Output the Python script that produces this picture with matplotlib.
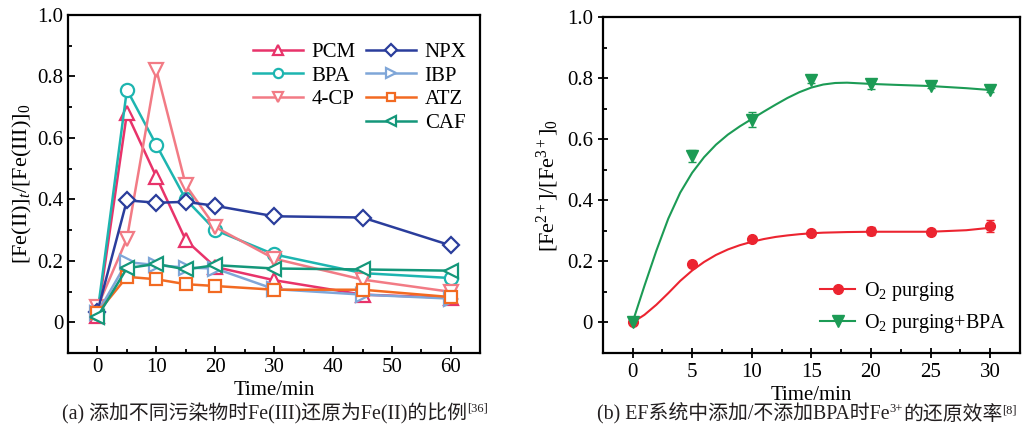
import matplotlib
matplotlib.use("Agg")
import matplotlib.pyplot as plt
from matplotlib.ticker import MultipleLocator, FixedLocator, FixedFormatter
from matplotlib.lines import Line2D

plt.rcParams['font.family'] = ['Liberation Serif', 'Noto Sans CJK SC']
plt.rcParams['mathtext.fontset'] = 'custom'
plt.rcParams['mathtext.rm'] = 'Liberation Serif'
plt.rcParams['mathtext.it'] = 'Liberation Serif:italic'

# ---------------- data: panel (a) ----------------
time_a = [0, 5, 10, 15, 20, 30, 45, 60]
pcm = [0.02, 0.68, 0.473, 0.267, 0.18, 0.137, 0.09, 0.08]
bpa = [0.03, 0.757, 0.577, 0.40, 0.30, 0.221, 0.16, 0.144]
cp4 = [0.05, 0.272, 0.822, 0.446, 0.31, 0.207, 0.139, 0.099]
npx = [0.035, 0.397, 0.389, 0.392, 0.379, 0.345, 0.341, 0.25]
ibp = [0.03, 0.196, 0.186, 0.178, 0.175, 0.108, 0.09, 0.077]
atz = [0.03, 0.148, 0.14, 0.124, 0.118, 0.106, 0.106, 0.082]
caf = [0.018, 0.176, 0.19, 0.172, 0.186, 0.175, 0.172, 0.168]
names_a = ['PCM', 'BPA', '4-CP', 'NPX', 'IBP', 'ATZ', 'CAF']

# ---------------- data: panel (b) ----------------
time_b = [0, 5, 10, 15, 20, 25, 30]
o2 = [0, 0.191, 0.273, 0.294, 0.299, 0.297, 0.317]
o2_err = [0, 0.006, 0.006, 0.006, 0.013, 0.008, 0.02]
o2_bpa = [0, 0.544, 0.664, 0.794, 0.78, 0.774, 0.76]
o2_bpa_err = [0, 0.02, 0.025, 0.01, 0.015, 0.006, 0.006]
# fitted curves
fit_t = [0, 1, 2, 3, 4, 5, 6, 7, 8, 9, 10, 11, 12, 13, 14, 15, 16, 17, 18,
         20, 22, 25, 28, 30]
fit_o2 = [0, 0.025, 0.058, 0.096, 0.136, 0.17, 0.198, 0.221, 0.239, 0.253,
          0.264, 0.273, 0.28, 0.285, 0.289, 0.292, 0.294, 0.295, 0.296,
          0.297, 0.297, 0.297, 0.302, 0.31]
fit_o2_bpa = [0, 0.12, 0.235, 0.34, 0.425, 0.49, 0.541, 0.582, 0.615, 0.642,
              0.666, 0.690, 0.713, 0.735, 0.754, 0.769, 0.779, 0.784, 0.785,
              0.781, 0.778, 0.774, 0.767, 0.761]
names_b = ['O$_2$ purging', 'O$_2$ purging+BPA']

ytick_vals = [0, 0.2, 0.4, 0.6, 0.8, 1.0]
ytick_labels = ['0', '0.2', '0.4', '0.6', '0.8', '1.0']

fig = plt.figure(figsize=(10.24, 4.34), dpi=100)
ax1 = fig.add_axes([0.0664, 0.1866, 0.4027, 0.7788])
ax2 = fig.add_axes([0.5886, 0.1866, 0.4074, 0.7742])

TICK_FS = 15
LAB_FS = 15

# ---------------- panel (a) ----------------
series_a = [pcm, bpa, cp4, npx, ibp, atz, caf]
colors_a = ['#e8336a', '#1db5b0', '#f27b85', '#2a3d9c', '#7fa6d8', '#f26a22', '#14977a']
markers_a = ['^', 'o', 'v', 'D', '>', 's', '<']
msizes = [10, 9.5, 10, 8.5, 10, 8, 10]
handles = []
for ys, c, m, ms, nm in zip(series_a, colors_a, markers_a, msizes, names_a):
    h, = ax1.plot(time_a, ys, color=c, marker=m, ms=ms, mfc='white', mec=c,
                  mew=1.6, lw=1.8, label=nm)
    handles.append(h)

blank = Line2D([], [], color='none', label=' ')
order = handles[:3] + [blank] + handles[3:]
ax1.legend(handles=order, labels=[h.get_label() for h in order], ncol=2,
           loc='upper right', bbox_to_anchor=(1.012, 0.975), frameon=False,
           fontsize=15, handlelength=2.4, handletextpad=0.4, columnspacing=0.5,
           labelspacing=0.2, markerscale=0.7)

ax1.set_xlim(-5, 65)
ax1.set_ylim(-0.1, 1.0)
ax1.xaxis.set_major_locator(MultipleLocator(10))
ax1.xaxis.set_minor_locator(MultipleLocator(5))
ax1.yaxis.set_major_locator(FixedLocator(ytick_vals))
ax1.yaxis.set_major_formatter(FixedFormatter(ytick_labels))
ax1.yaxis.set_minor_locator(MultipleLocator(0.1))
ax1.tick_params(which='both', direction='in', width=1.3, labelsize=TICK_FS)
ax1.tick_params(which='major', length=5)
ax1.tick_params(which='minor', length=3)
for s in ax1.spines.values():
    s.set_linewidth(1.6)
ax1.set_xlabel('Time/min', fontsize=LAB_FS, labelpad=3)
ax1.set_ylabel('[Fe(II)]$_t$/[Fe(III)]$_0$', fontsize=16, labelpad=2)

# ---------------- panel (b) ----------------
c_red = '#ec2430'
c_green = '#1c9b55'
ax2.plot(fit_t, fit_o2, color=c_red, lw=1.5)
ax2.plot(fit_t, fit_o2_bpa, color=c_green, lw=1.5)
ax2.errorbar(time_b, o2, yerr=o2_err, fmt='o', color=c_red, ms=7,
             capsize=3, elinewidth=1.0, capthick=1.0)
ax2.errorbar(time_b, o2_bpa, yerr=o2_bpa_err, fmt='v', color=c_green, ms=8,
             capsize=3, elinewidth=1.0, capthick=1.0)
hb = [Line2D([], [], color=c_red, marker='o', ms=7, lw=1.5),
      Line2D([], [], color=c_green, marker='v', ms=8, lw=1.5)]
ax2.legend(hb, names_b, loc='lower right', bbox_to_anchor=(1.01, 0.0),
           frameon=False, fontsize=14.5, handlelength=1.7, handletextpad=0.45,
           labelspacing=0.45)

ax2.set_xlim(-2.5, 32.5)
ax2.set_ylim(-0.1, 1.0)
ax2.xaxis.set_major_locator(MultipleLocator(5))
ax2.xaxis.set_minor_locator(MultipleLocator(2.5))
ax2.yaxis.set_major_locator(FixedLocator(ytick_vals))
ax2.yaxis.set_major_formatter(FixedFormatter(ytick_labels))
ax2.yaxis.set_minor_locator(MultipleLocator(0.1))
ax2.tick_params(which='both', direction='in', width=1.3, labelsize=TICK_FS)
ax2.tick_params(axis='x', which='major', direction='inout', length=7)
ax2.tick_params(axis='y', which='major', direction='inout', length=7)
ax2.tick_params(which='minor', length=3)
for s in ax2.spines.values():
    s.set_linewidth(1.6)
ax2.set_xlabel('Time/min', fontsize=LAB_FS, labelpad=3)
ax2.set_ylabel('[Fe$^{2+}$]/[Fe$^{3+}$]$_0$', fontsize=16, labelpad=4)

# ---------------- captions ----------------
CAP_FS = 14.3
SUP_FS = 9
ta = fig.text(0.061, 0.033, '(a) 添加不同污染物时Fe(III)还原为Fe(II)的比例',
              fontsize=CAP_FS, color='#231f20', va='baseline')
ax1.annotate('[36]', xy=(1, 0.6), xycoords=ta, fontsize=SUP_FS,
             color='#231f20', va='baseline')

tb1 = fig.text(0.583, 0.033, '(b) EF系统中添加/不添加BPA时Fe',
               fontsize=CAP_FS, color='#231f20', va='baseline')
tb2 = ax2.annotate('3+', xy=(1, 0.6), xycoords=tb1, fontsize=SUP_FS,
                   color='#231f20', va='baseline')
tb3 = ax2.annotate('的还原效率', xy=(1, 0), xycoords=(tb2, tb1),
                   fontsize=CAP_FS, color='#231f20', va='bottom')
ax2.annotate('[8]', xy=(1, 0.6), xycoords=tb3, fontsize=SUP_FS,
             color='#231f20', va='baseline')

fig.savefig('out.png', dpi=100)
